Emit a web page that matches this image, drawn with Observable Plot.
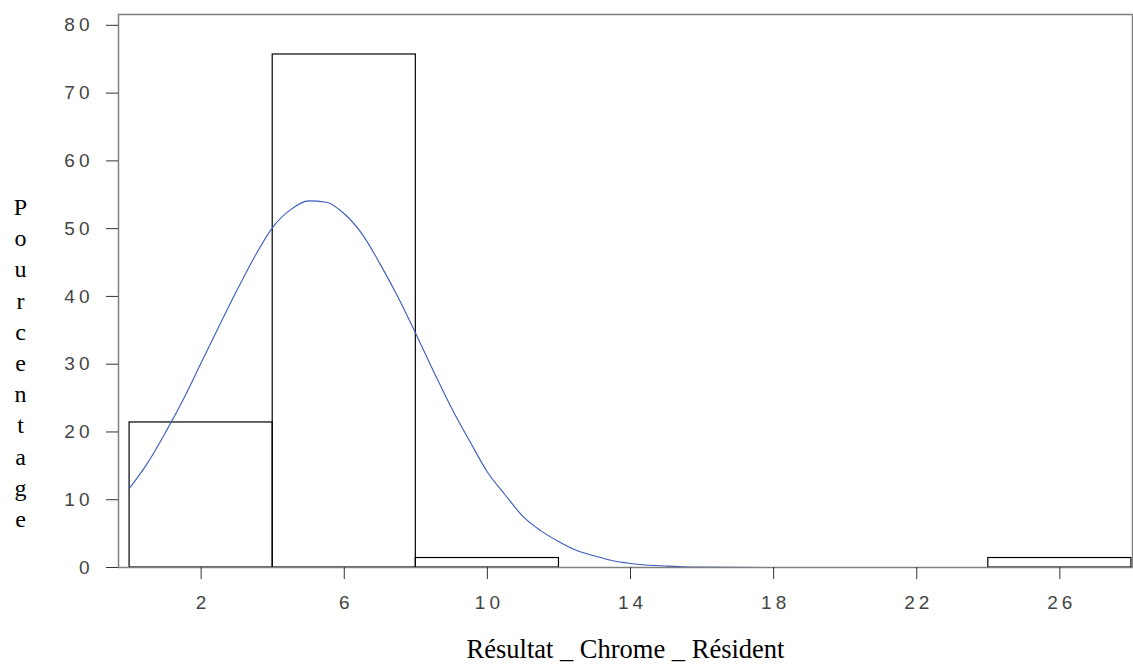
<!DOCTYPE html>
<html>
<head>
<meta charset="utf-8">
<script src="https://cdn.jsdelivr.net/npm/d3@7"></script>
<script src="https://cdn.jsdelivr.net/npm/@observablehq/plot@0.6"></script>
<style>
  html, body { margin: 0; padding: 0; background: #fff; }
</style>
</head>
<body>
<div id="chart"></div>
<script>
// Histogram bins (Résultat _ Chrome _ Résident) and percentages
const binStart = [0, 4, 8, 12, 16, 20, 24];
const binEnd   = [4, 8, 12, 16, 20, 24, 28];
const percent  = [21.4, 75.7, 1.4, 0, 0, 0, 1.4];

// Fitted normal curve
const curveX = [0, 0.5, 1, 1.5, 2, 2.5, 3, 3.5, 4, 4.5, 5, 5.5, 6, 6.5, 7, 7.5, 8, 8.5, 9, 9.5, 10, 10.5, 11, 11.5, 12, 12.5, 13, 13.5, 14, 15, 16, 18, 20, 22, 24, 26, 28];
const curveY = [11.7, 15.4, 19.9, 24.8, 30.2, 35.6, 40.9, 45.9, 50.2, 52.8, 54.1, 53.9, 52.2, 49.2, 44.8, 39.9, 34.5, 28.9, 23.5, 18.7, 14.1, 10.7, 7.5, 5.4, 3.8, 2.5, 1.7, 1.0, 0.6, 0.2, 0.05, 0, 0, 0, 0, 0, 0];

// Tick values
const xTicks = [2, 6, 10, 14, 18, 22, 26];
const yTicks = [0, 10, 20, 30, 40, 50, 60, 70, 80];

const xLabel = "Résultat _ Chrome _ Résident";
const yLabel = "Pourcentage";

const bars = binStart.map((s, i) => ({x1: s, x2: binEnd[i], y: percent[i]}));
const curve = curveX.map((x, i) => ({x, y: curveY[i]}));

const chart = Plot.plot({
  width: 1133,
  height: 669,
  marginLeft: 118,
  marginRight: 1,
  marginTop: 14,
  marginBottom: 102,
  x: {domain: [-0.31, 28.03]},
  y: {domain: [0, 81.6]},
  style: {background: "#fff"},
  marks: [
    Plot.rectY(bars, {x1: "x1", x2: "x2", y: "y", fill: "none", stroke: "#000", strokeWidth: 1.2}),
    Plot.line(curve, {x: "x", y: "y", stroke: "#3a5bbf", strokeWidth: 1.1, curve: "monotone-x"}),
    Plot.frame({stroke: "#808080", strokeWidth: 1.5}),
    Plot.axisY({ticks: yTicks, tickSize: 12, tickPadding: 13, tickFormat: d => String(d),
      fontFamily: "Liberation Sans", fontSize: 19, stroke: "#333", fill: "#444", label: null}),
    Plot.axisX({ticks: xTicks, tickSize: 12, tickPadding: 16, tickFormat: d => String(d),
      fontFamily: "Liberation Sans", fontSize: 19, stroke: "#333", fill: "#444", label: null}),
    Plot.text([xLabel], {frameAnchor: "bottom", dy: 82, lineAnchor: "middle", text: d => d,
      fontFamily: "Liberation Serif", fontSize: 26.5, fill: "#000"}),
    Plot.text([yLabel.split("").join("\n")], {frameAnchor: "left", dx: -98, dy: 70, text: d => d,
      fontFamily: "Liberation Serif", fontSize: 24, lineHeight: 1.3, textAnchor: "middle", fill: "#000"})
  ]
});
d3.select(chart).selectAll('g[aria-label="y-axis tick label"] text, g[aria-label="x-axis tick label"] text')
  .attr("letter-spacing", "4px");
d3.select(chart).selectAll('g[aria-label="x-axis tick label"] text')
  .attr("dx", "2px");
document.getElementById("chart").append(chart);
</script>
</body>
</html>
